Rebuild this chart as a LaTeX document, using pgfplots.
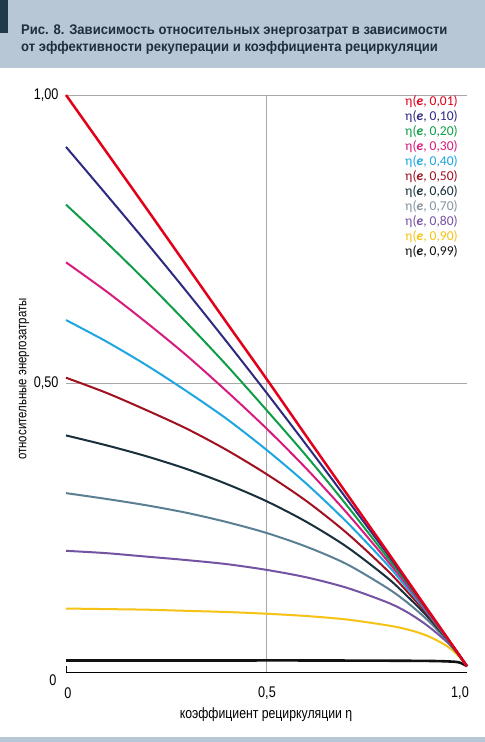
\documentclass[border=0pt]{standalone}
\usepackage{pgfplots}
\pgfplotsset{compat=1.18}
\usepackage{fontspec}
\setmainfont{Liberation Sans}
\newfontfamily\narrowfont[FakeStretch=0.82]{Liberation Sans}
\newfontfamily\titlefont[FakeStretch=0.935]{Liberation Sans}
\newfontfamily\legfont{Carlito}
\definecolor{band}{HTML}{B8C7D6}
\definecolor{bandd}{HTML}{22394A}
\definecolor{titc}{HTML}{1F2E3D}
\definecolor{c01}{HTML}{E2001A}
\definecolor{c10}{HTML}{2E2A80}
\definecolor{c20}{HTML}{0F9D48}
\definecolor{c30}{HTML}{D81B7E}
\definecolor{c40}{HTML}{1DA6E0}
\definecolor{c50}{HTML}{A0101E}
\definecolor{c60}{HTML}{17303C}
\definecolor{c70}{HTML}{5B7F93}
\definecolor{c70l}{HTML}{8494A0}
\definecolor{c80}{HTML}{7553A3}
\definecolor{c90}{HTML}{F6C314}
\definecolor{c99}{HTML}{111111}
\definecolor{gridc}{HTML}{A8A8A8}
\begin{document}
\begin{tikzpicture}[x=1bp,y=1bp]
\fill[white] (0,0) rectangle (485,742);
\fill[band] (0,674) rectangle (485,742);
\fill[bandd] (0,709) rectangle (8,742);
\fill[band] (0,0) rectangle (485,5);
\node[anchor=base west, text=titc, inner sep=0pt, font=\titlefont\bfseries\fontsize{14}{16}\selectfont] at (21,707) {Рис. 8. Зависимость относительных энергозатрат в зависимости};
\node[anchor=base west, text=titc, inner sep=0pt, font=\titlefont\bfseries\fontsize{14}{16}\selectfont] at (21,690) {от эффективности рекуперации и коэффициента рециркуляции};
\begin{axis}[
  at={(66bp,70bp)}, anchor=south west,
  scale only axis, width=401bp, height=577bp,
  xmin=0, xmax=1, ymin=0, ymax=1,
  axis x line*=bottom, axis y line*=left,
  y axis line style={draw=none},
  x axis line style={draw=black, line width=0.9bp, -},
  xtick={0,0.5,1}, xticklabels={},
  ytick={0.5,1}, yticklabels={{0,50},{1,00}},
  major tick length=0pt,
  tick label style={font=\narrowfont\fontsize{15.5}{17}\selectfont},
  yticklabel style={xshift=-4bp},
  clip=false,
]
\draw[gridc, line width=0.9bp] (axis cs:0.5,0) -- (axis cs:0.5,1);
\draw[gridc, line width=0.9bp] (axis cs:0,0.5) -- (axis cs:1,0.5);
\draw[gridc, line width=0.9bp] (axis cs:0,1) -- (axis cs:1,1);
\draw[black, line width=0.9bp] (axis cs:0,0) -- ++(0,6bp);
% e = 0.99
\addplot[c99, line width=2.6bp, smooth] coordinates {(0,0.020) (0.2,0.020) (0.4,0.020) (0.6,0.020) (0.8,0.0196) (0.9,0.0192) (0.95,0.0184) (0.98,0.0167) (1,0.010)};
% e = 0.90
\addplot[c90, line width=2bp, smooth] coordinates {(0,0.110) (0.1,0.109) (0.2,0.108) (0.3,0.106) (0.4,0.104) (0.5,0.101) (0.6,0.097) (0.7,0.091) (0.8,0.081) (0.85,0.074) (0.9,0.063) (0.95,0.045) (0.98,0.027) (1,0.010)};
% e = 0.80
\addplot[c80, line width=2bp, smooth] coordinates {(0,0.210) (0.1,0.206) (0.2,0.200) (0.3,0.194) (0.4,0.187) (0.5,0.177) (0.6,0.164) (0.7,0.146) (0.8,0.121) (0.85,0.104) (0.9,0.081) (0.95,0.052) (0.98,0.029) (1,0.010)};
% e = 0.70
\addplot[c70, line width=2bp, smooth] coordinates {(0,0.310) (0.1,0.300) (0.2,0.289) (0.3,0.276) (0.4,0.260) (0.5,0.241) (0.6,0.217) (0.7,0.187) (0.8,0.146) (0.85,0.121) (0.9,0.091) (0.95,0.055) (0.98,0.029) (1,0.010)};
% e = 0.60
\addplot[c60, line width=2bp, smooth] coordinates {(0,0.410) (0.1,0.393) (0.2,0.374) (0.3,0.352) (0.4,0.326) (0.5,0.296) (0.6,0.260) (0.7,0.217) (0.8,0.164) (0.85,0.132) (0.9,0.097) (0.95,0.057) (0.98,0.029) (1,0.010)};
% e = 0.50
\addplot[c50, line width=2bp, smooth] coordinates {(0,0.510) (0.1,0.484) (0.2,0.454) (0.3,0.422) (0.4,0.385) (0.5,0.343) (0.6,0.296) (0.7,0.241) (0.8,0.177) (0.85,0.140) (0.9,0.101) (0.95,0.058) (0.98,0.030) (1,0.010)};
% e = 0.40
\addplot[c40, line width=2bp, smooth] coordinates {(0,0.610) (0.1,0.573) (0.2,0.532) (0.3,0.487) (0.4,0.439) (0.5,0.385) (0.6,0.326) (0.7,0.260) (0.8,0.187) (0.85,0.146) (0.9,0.104) (0.95,0.058) (0.98,0.030) (1,0.010)};
% e = 0.30
\addplot[c30, line width=2bp, smooth] coordinates {(0,0.710) (0.1,0.660) (0.2,0.606) (0.3,0.549) (0.4,0.487) (0.5,0.422) (0.6,0.352) (0.7,0.276) (0.8,0.194) (0.85,0.151) (0.9,0.106) (0.95,0.059) (0.98,0.030) (1,0.010)};
% e = 0.20
\addplot[c20, line width=2bp, smooth] coordinates {(0,0.810) (0.1,0.745) (0.2,0.677) (0.3,0.606) (0.4,0.532) (0.5,0.454) (0.6,0.374) (0.7,0.289) (0.8,0.200) (0.85,0.155) (0.9,0.108) (0.95,0.059) (0.98,0.030) (1,0.010)};
% e = 0.10
\addplot[c10, line width=2bp, smooth] coordinates {(0,0.910) (0.1,0.828) (0.2,0.745) (0.3,0.660) (0.4,0.573) (0.5,0.484) (0.6,0.393) (0.7,0.300) (0.8,0.206) (0.85,0.158) (0.9,0.109) (0.95,0.060) (0.98,0.030) (1,0.010)};
% e = 0.01
\addplot[c01, line width=2.5bp, smooth] coordinates {(0,1.000) (0.1,0.902) (0.2,0.804) (0.3,0.705) (0.4,0.606) (0.5,0.508) (0.6,0.408) (0.7,0.309) (0.8,0.210) (0.85,0.160) (0.9,0.110) (0.95,0.060) (0.98,0.030) (1,0.010)};
\end{axis}
\node[anchor=center, font=\narrowfont\fontsize{15.5}{17}\selectfont] at (53,62) {0};
\node[anchor=center, font=\narrowfont\fontsize{15.5}{17}\selectfont] at (68,49) {0};
\node[anchor=center, font=\narrowfont\fontsize{15.5}{17}\selectfont] at (267,49) {0,5};
\node[anchor=center, font=\narrowfont\fontsize{15.5}{17}\selectfont] at (460,49) {1,0};
\node[anchor=north east, align=right, inner sep=0pt, font=\legfont\fontsize{13.6}{15.1}\selectfont] at (458,647) {%
\textcolor{c01}{η(\textbf{\textit{e}}, 0,01)}\\
\textcolor{c10}{η(\textbf{\textit{e}}, 0,10)}\\
\textcolor{c20}{η(\textbf{\textit{e}}, 0,20)}\\
\textcolor{c30}{η(\textbf{\textit{e}}, 0,30)}\\
\textcolor{c40}{η(\textbf{\textit{e}}, 0,40)}\\
\textcolor{c50}{η(\textbf{\textit{e}}, 0,50)}\\
\textcolor{c60}{η(\textbf{\textit{e}}, 0,60)}\\
\textcolor{c70l}{η(\textbf{\textit{e}}, 0,70)}\\
\textcolor{c80}{η(\textbf{\textit{e}}, 0,80)}\\
\textcolor{c90}{η(\textbf{\textit{e}}, 0,90)}\\
\textcolor{c99}{η(\textbf{\textit{e}}, 0,99)}};
\node[anchor=center, font=\narrowfont\fontsize{15}{17}\selectfont] at (266,27) {коэффициент рециркуляции η};
\node[anchor=center, rotate=90, font=\narrowfont\fontsize{14}{16}\selectfont] at (24,363) {относительные энергозатраты};
\end{tikzpicture}
\end{document}
